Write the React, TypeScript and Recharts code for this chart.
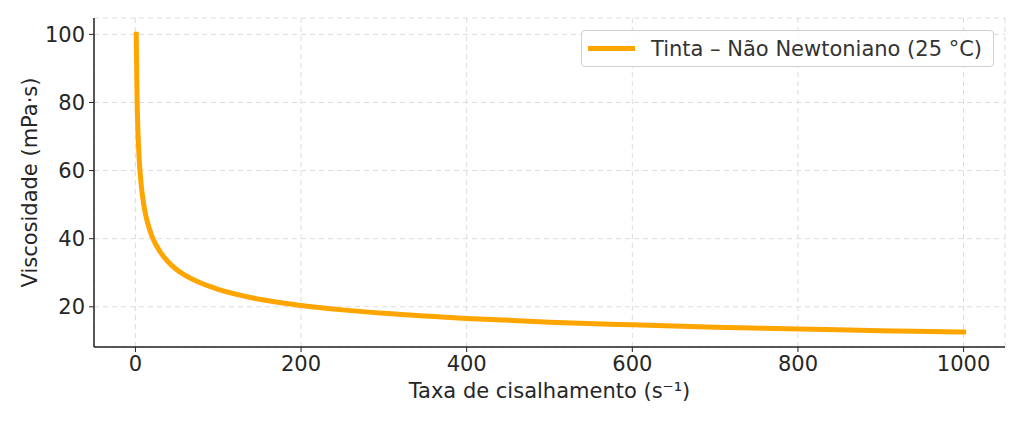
import { CartesianGrid, Label, Legend, Line, LineChart, XAxis, YAxis } from "recharts";

// shear rate (1/s) and viscosity (mPa·s)
const shearRate = [1, 2, 3, 5, 7, 10, 15, 20, 30, 40, 50, 75, 100, 150, 200, 250, 300, 400, 500, 600, 700, 800, 900, 1000];
const viscosity = [100, 81.2, 71.9, 61.7, 55.8, 50.1, 44.4, 40.7, 36.1, 33.1, 30.9, 27.4, 25.1, 22.2, 20.4, 19.1, 18.1, 16.6, 15.5, 14.7, 14.0, 13.5, 13.0, 12.6];

const xTicks = [0, 200, 400, 600, 800, 1000];
const yTicks = [20, 40, 60, 80, 100];

const seriesName = "Tinta – Não Newtoniano (25 °C)";
const font = "'DejaVu Sans', sans-serif";
const orange = "#ffa500";
const fs = 21;

const data = shearRate.map((x, i) => ({ x, y: viscosity[i] }));

function LegendBox() {
  return (
    <div
      style={{
        boxSizing: "border-box",
        width: 413,
        height: 37,
        border: "1px solid #d0d0d0",
        borderRadius: 4,
        background: "rgba(255,255,255,0.85)",
        display: "flex",
        alignItems: "center",
        paddingLeft: 6,
        fontFamily: font,
        fontSize: fs,
        color: "#333",
      }}
    >
      <span style={{ display: "inline-block", width: 47, height: 5, background: orange }} />
      <span style={{ marginLeft: 16, whiteSpace: "nowrap" }}>{seriesName}</span>
    </div>
  );
}

export default function App() {
  return (
    <div style={{ position: "fixed", left: 0, top: 0, background: "#fff" }}>
      <LineChart width={1024} height={422} data={data} margin={{ top: 18, right: 19, bottom: 0, left: 0 }}>
        <CartesianGrid stroke="#dcdcdc" strokeDasharray="5 4" />
        <XAxis
          dataKey="x"
          type="number"
          domain={[-50, 1050]}
          ticks={xTicks}
          height={75}
          tickSize={5}
          tickMargin={4}
          axisLine={{ stroke: "#222", strokeWidth: 1.5 }}
          tickLine={{ stroke: "#222" }}
          tick={{ fill: "#262626", fontSize: fs, fontFamily: font }}
        >
          <Label
            value="Taxa de cisalhamento (s⁻¹)"
            position="insideBottom"
            offset={24}
            style={{ fill: "#262626", fontSize: fs, fontFamily: font }}
          />
        </XAxis>
        <YAxis
          type="number"
          domain={[8.2, 104.8]}
          ticks={yTicks}
          width={94}
          tickSize={5}
          tickMargin={4}
          axisLine={{ stroke: "#222", strokeWidth: 1.5 }}
          tickLine={{ stroke: "#222" }}
          tick={{ fill: "#262626", fontSize: fs, fontFamily: font }}
        >
          <Label
            value="Viscosidade (mPa·s)"
            angle={-90}
            position="insideLeft"
            offset={30}
            style={{ fill: "#262626", fontSize: fs, fontFamily: font, textAnchor: "middle" }}
          />
        </YAxis>
        <Legend
          layout="horizontal"
          verticalAlign="middle"
          align="center"
          content={() => <LegendBox />}
          wrapperStyle={{ position: "absolute", left: 581, top: 30, width: 413 }}
        />
        <Line
          type="monotone"
          dataKey="y"
          name={seriesName}
          stroke={orange}
          strokeWidth={5}
          strokeLinecap="square"
          dot={false}
          isAnimationActive={false}
        />
      </LineChart>
    </div>
  );
}
